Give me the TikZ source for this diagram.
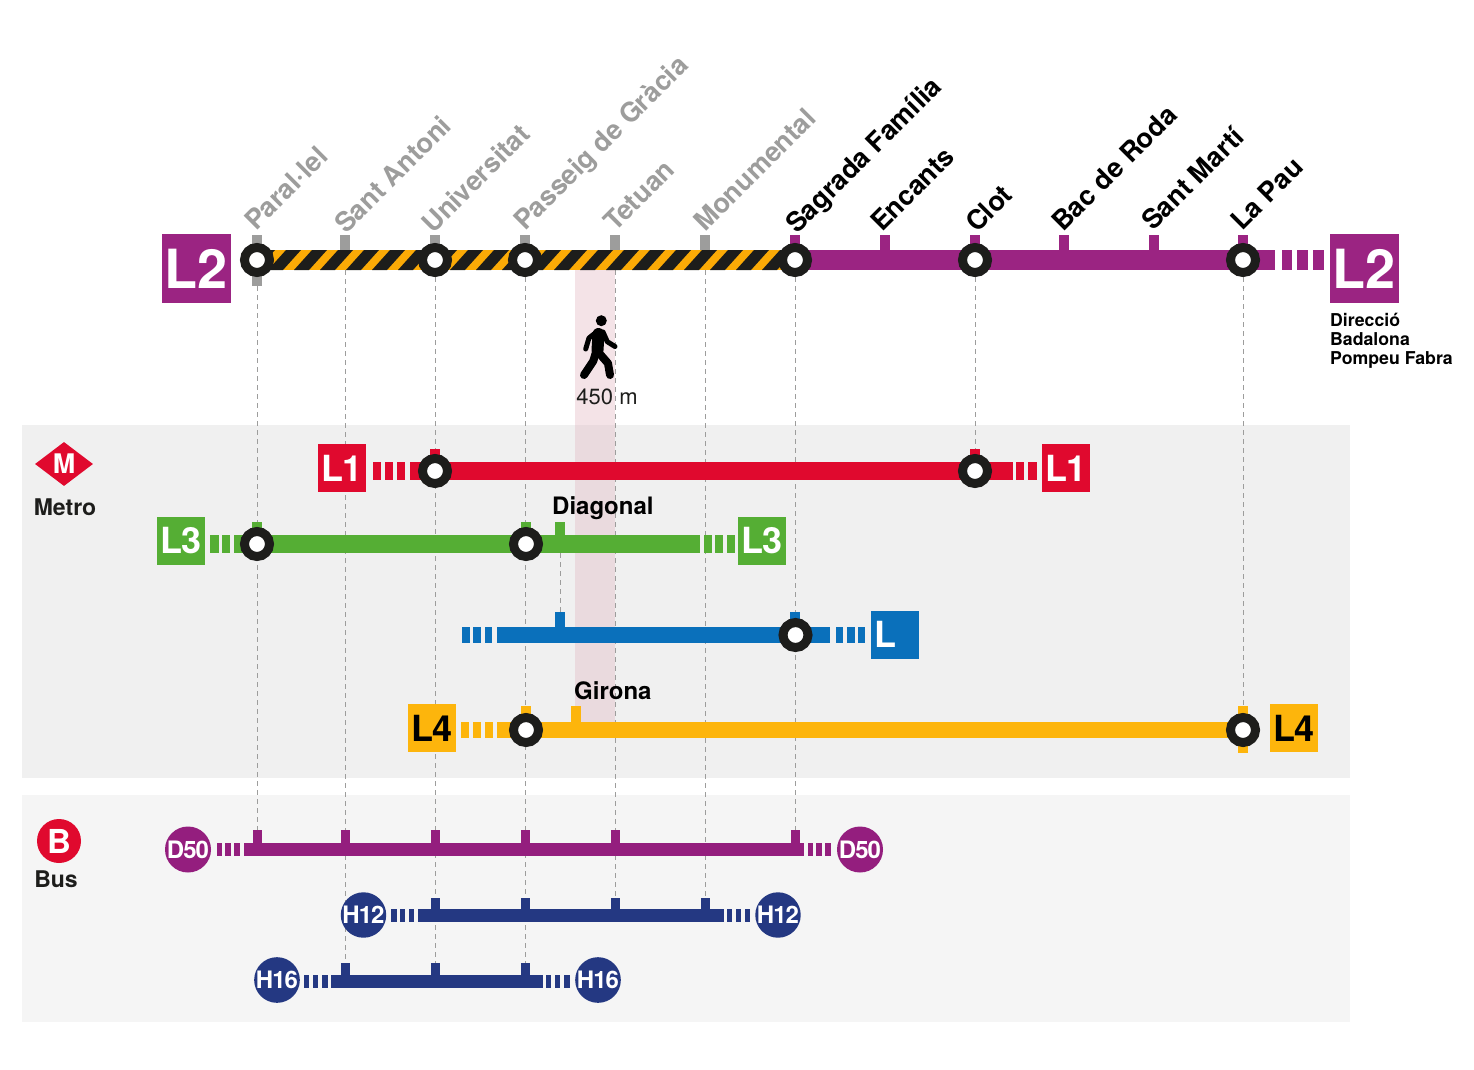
\documentclass[tikz,border=0pt]{standalone}
\usepackage{fontspec}
\usepackage{tikz}
\usetikzlibrary{backgrounds,shapes.geometric}
\setmainfont{TeX Gyre Heros}
\newfontfamily\tightfont[LetterSpace=-4]{TeX Gyre Heros}
\definecolor{lineTwo}{HTML}{9B2482}
\definecolor{lineOne}{HTML}{E0092E}
\definecolor{lineThree}{HTML}{55AE34}
\definecolor{lineBlue}{HTML}{0A70BB}
\definecolor{lineFour}{HTML}{FDB50C}
\definecolor{busPurple}{HTML}{941E7E}
\definecolor{busNavy}{HTML}{243882}
\definecolor{ringBlack}{HTML}{1D1D1B}
\definecolor{hazard}{HTML}{FBAA06}
\definecolor{greyText}{HTML}{9D9D9C}
\definecolor{panelMetro}{HTML}{F0F0F0}
\definecolor{panelBus}{HTML}{F5F5F5}
\definecolor{bandPink}{HTML}{E3B9C3}
\tikzset{
 ring/.style={circle,draw=ringBlack,line width=9pt,fill=white,inner sep=0pt,minimum size=25pt},
 guide/.style={greyText,line width=.9pt,dash pattern=on 5pt off 4pt},
 bigbox/.style={inner sep=0pt,minimum size=69pt,text=white,font=\bfseries\fontsize{54}{54}\selectfont},
 linebox/.style={inner sep=0pt,minimum size=48pt,text=white,font=\tightfont\bfseries\fontsize{36}{36}\selectfont},
 buscircle/.style={circle,inner sep=0pt,text=white,font=\tightfont\bfseries\fontsize{24}{24}\selectfont},
 stname/.style={anchor=base west,rotate=45,inner sep=0pt,font=\bfseries\fontsize{27}{27}\selectfont},
 offname/.style={stname,text=greyText},
 onname/.style={stname,text=black},
 place/.style={inner sep=0pt,text=black,font=\bfseries\fontsize{24}{24}\selectfont},
}
\begin{document}
\begin{tikzpicture}[x=1pt,y=-1pt]
 \useasboundingbox (0,0) rectangle (1474,1070);
 % L2, top row
 \foreach \x in {345,435,525,615,705,257}
  \fill[greyText] (\x-4.75,235) rectangle (\x+4.75,250);
 \fill[greyText] (252.25,270) rectangle (261.75,286);
 \foreach \x in {795,885,975,1064,1154,1243}
  \fill[lineTwo] (\x-5,235) rectangle (\x+5,250);
 \fill[hazard] (262,250) rectangle (795,270);
 \begin{scope}
  \clip (262,250) rectangle (795,270);
  \foreach \x in {-1,...,21}
   \fill[ringBlack] (268+26*\x,270) -- (283+26*\x,270) -- (301+26*\x,250) -- (286+26*\x,250) -- cycle;
 \end{scope}
 \fill[lineTwo] (795,250) rectangle (1275,270);
 \foreach \a/\b in {1282/1292,1297/1308,1313/1324}
  \fill[lineTwo] (\a,250) rectangle (\b,270);
 \node[bigbox,fill=lineTwo] (ltwoA) at (196,268.5) {L2};
 \node[bigbox,fill=lineTwo] (ltwoB) at (1364,268.5) {L2};
 \node[anchor=north west,inner sep=0pt,align=left,font=\bfseries\fontsize{17.7}{19}\selectfont] (direction) at (1330,313) {Direcci\'o\\Badalona\\Pompeu Fabra};
 % station names
 \node[offname] (paralel) at (256,232) {Paral·lel};
 \node[offname] (santantoni) at (346,235) {Sant Antoni};
 \node[offname] (universitat) at (433,235) {Universitat};
 \node[offname] (passeig) at (525,232) {Passeig de Gràcia};
 \node[offname] (tetuan) at (615,233) {Tetuan};
 \node[offname] (monumental) at (705,233) {Monumental};
 \node[onname] (sagrada) at (797,235) {Sagrada Família};
 \node[onname] (encants) at (882,233) {Encants};
 \node[onname] (clot) at (977,234) {Clot};
 \node[onname] (bacderoda) at (1063,233) {Bac de Roda};
 \node[onname] (santmarti) at (1153,232) {Sant Martí};
 \node[onname] (lapau) at (1242,232) {La Pau};
 % L1
 \foreach \x in {435,975}
  \fill[lineOne] (\x-5,449) rectangle (\x+5,462);
 \fill[lineOne] (410,462) rectangle (1013,480);
 \foreach \a/\b in {373/381,385/393,397/405,1016/1024,1028/1037}
  \fill[lineOne] (\a,462) rectangle (\b,480);
 \node[linebox,fill=lineOne] (loneA) at (342,468) {L1};
 \node[linebox,fill=lineOne] (loneB) at (1066,468) {L1};
 % L3
 \foreach \x in {257,526,560}
  \fill[lineThree] (\x-5,522) rectangle (\x+5,535);
 \fill[lineThree] (234,535) rectangle (700,553);
 \foreach \a/\b in {210/219,222/230,704/712,715/723,727/735}
  \fill[lineThree] (\a,535) rectangle (\b,553);
 \node[linebox,fill=lineThree] (lthreeA) at (181,541) {L3};
 \node[linebox,fill=lineThree] (lthreeB) at (762,541) {L3};
 \node[place,anchor=base west] (diagonal) at (552,514) {Diagonal};
 % unnamed blue line
 \fill[lineBlue] (555,612) rectangle (565,627);
 \fill[lineBlue] (790,612) rectangle (800,627);
 \fill[lineBlue] (497,627) rectangle (830,643);
 \foreach \a/\b in {462/470,473/481,485/492,836/843,847/855,858/865}
  \fill[lineBlue] (\a,627) rectangle (\b,643);
 \node[linebox,fill=lineBlue] (lblue) at (895,635) {};
 \node[linebox,anchor=base west,minimum size=0pt] (lbluetext) at (874,647) {L};
 % L4
 \foreach \x in {526,576,1243}
  \fill[lineFour] (\x-5,706) rectangle (\x+5,722);
 \fill[lineFour] (1238,738) rectangle (1248,753);
 \fill[lineFour] (497,722) rectangle (1243,738);
 \foreach \a/\b in {461/469,473/481,485/493}
  \fill[lineFour] (\a,722) rectangle (\b,738);
 \node[linebox,fill=lineFour,text=black] (lfourA) at (432,728) {L4};
 \node[linebox,fill=lineFour,text=black] (lfourB) at (1294,728) {L4};
 \node[place,anchor=base west] (girona) at (574,699) {Girona};
 % bus lines
 \foreach \x in {257,345,435,525,615,795} {
  \coordinate (dfifty\x) at (\x,830);
  \fill[busPurple] (\x-4.5,830) rectangle (\x+4.5,843);
 }
 \fill[busPurple] (244,843) rectangle (804,856);
 \foreach \a/\b in {217/222,225/231,234/240,808/813,816/822,825/831}
  \fill[busPurple] (\a,843) rectangle (\b,856);
 \node[buscircle,fill=busPurple,minimum size=46pt] (dA) at (188,849.5) {D50};
 \node[buscircle,fill=busPurple,minimum size=46pt] (dB) at (860,849.5) {D50};
 \foreach \x in {435,525,615,705} {
  \coordinate (htwelve\x) at (\x,898);
  \fill[busNavy] (\x-4.5,898) rectangle (\x+4.5,909);
 }
 \fill[busNavy] (418,909) rectangle (724,922);
 \foreach \a/\b in {391/397,400/405,409/414,727/732,736/741,745/750}
  \fill[busNavy] (\a,909) rectangle (\b,922);
 \node[buscircle,fill=busNavy,minimum size=43.5pt] (hA) at (363.5,915) {H12};
 \node[buscircle,fill=busNavy,minimum size=43.5pt] (hB) at (778,915) {H12};
 \foreach \x in {345,435,525} {
  \coordinate (hsixteen\x) at (\x,963);
  \fill[busNavy] (\x-4.5,963) rectangle (\x+4.5,975);
 }
 \fill[busNavy] (331,975) rectangle (543,988);
 \foreach \a/\b in {304/309,313/318,322/328,546/551,555/560,564/570}
  \fill[busNavy] (\a,975) rectangle (\b,988);
 \node[buscircle,fill=busNavy,minimum size=43.5pt] (kA) at (277,980) {H16};
 \node[buscircle,fill=busNavy,minimum size=43.5pt] (kB) at (598,980) {H16};
 % interchanges
 \foreach \x in {257,435,525,795,975,1243}
  \node[ring] (top\x) at (\x,260) {};
 \coordinate (top345) at (345,270);
 \coordinate (top615) at (615,270);
 \coordinate (top705) at (705,270);
 \node[ring] (oneA) at (435,471) {};
 \node[ring] (oneB) at (975,471) {};
 \node[ring] (threeA) at (257,544) {};
 \node[ring] (threeB) at (526,544) {};
 \coordinate (diagonalTop) at (560,553);
 \coordinate (diagonalEnd) at (560,612);
 \node[ring] (blueA) at (795.5,635) {};
 \node[ring] (fourA) at (526,730) {};
 \node[ring] (fourB) at (1243,730) {};
 % legend marks
 \node[diamond,fill=lineOne,inner sep=0pt,minimum width=58pt,minimum height=44pt,text=white,font=\bfseries\fontsize{27}{27}\selectfont] (metrologo) at (64,464) {M};
 \node[place,text=ringBlack,font=\bfseries\fontsize{23}{23}\selectfont] (metrotext) at (65,507) {Metro};
 \node[circle,fill=lineOne,inner sep=0pt,minimum size=44pt,text=white,font=\bfseries\fontsize{33}{33}\selectfont] (buslogo) at (59,841) {B};
 \node[place,text=ringBlack,font=\bfseries\fontsize{23}{23}\selectfont] (bustext) at (56,879) {Bus};
 % walker
 \fill (601.3,320.7) circle (5.5);
 \draw[line width=12pt,line cap=round] (598.5,334) -- (597.5,350);
 \draw[line width=5pt,line cap=round,line join=round] (594,334) -- (589,338) -- (585.7,349);
 \draw[line width=5pt,line cap=round,line join=round] (603,332) -- (607.3,341.7) -- (615,346.5);
 \draw[line width=8pt,line cap=round,line join=round] (596,352) -- (593.3,361) -- (584,375);
 \draw[line width=8pt,line cap=round,line join=round] (599,353) -- (608,363.3) -- (610,375);
 \node[inner sep=0pt,text=ringBlack,font=\fontsize{22}{22}\selectfont] (distance) at (607,397) {450 m};
 % panels and guides
 \begin{scope}[on background layer]
  \fill[panelMetro] (22,425) rectangle (1350,778);
  \fill[panelBus] (22,795) rectangle (1350,1022);
  \fill[bandPink,opacity=.4] (575,270) rectangle (615,722);
  \draw[guide] (top257) -- (dfifty257);
  \draw[guide] (top345) -- (hsixteen345);
  \draw[guide] (top435) -- (hsixteen435);
  \draw[guide] (top525) -- (hsixteen525);
  \draw[guide] (top615) -- (htwelve615);
  \draw[guide] (top705) -- (htwelve705);
  \draw[guide] (top795) -- (dfifty795);
  \draw[guide] (top975) -- (oneB);
  \draw[guide] (top1243) -- (fourB);
  \draw[guide] (diagonalTop) -- (diagonalEnd);
 \end{scope}
\end{tikzpicture}
\end{document}
